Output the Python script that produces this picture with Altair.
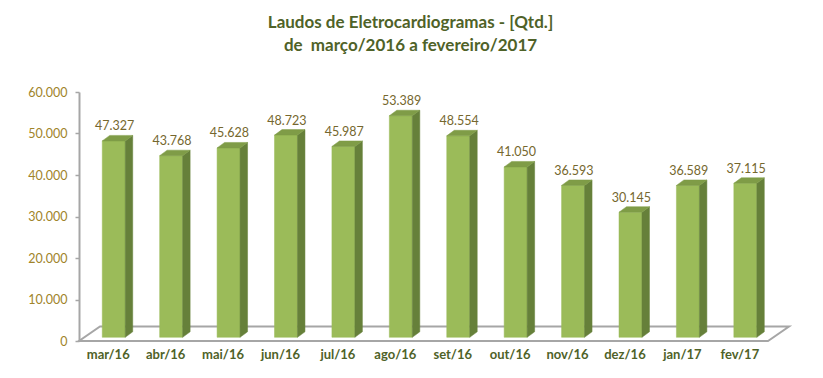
import altair as alt
import pandas as pd

months = ["mar/16", "abr/16", "mai/16", "jun/16", "jul/16", "ago/16",
          "set/16", "out/16", "nov/16", "dez/16", "jan/17", "fev/17"]
values = [47327, 43768, 45628, 48723, 45987, 53389,
          48554, 41050, 36593, 30145, 36589, 37115]
y_ticks = [0, 10000, 20000, 30000, 40000, 50000, 60000]

title_lines = ["Laudos de Eletrocardiogramas - [Qtd.]",
               "de\u00a0 março/2016 a fevereiro/2017"]

# ---- geometry (style) ----
W, H = 689, 249
YMAX = 60000
n = len(months)
px_x = W / n
px_y = H / YMAX


def xu(px):
    return px / px_x


def yu(px):
    return px / px_y


FX0, FX1 = -0.095, 0.305        # front face extent (category units)
BASE = yu(3.7)                   # bar base lifted from floor front edge
BDX, BDY = xu(7.5), yu(5.5)      # bar depth
FDX, FDY = xu(21), yu(14.5)      # floor depth

FRONT = "#9BBB59"
SIDE = "#66803A"
TOP = "#7F9C47"

front_rows, side_rows, top_rows, label_rows = [], [], [], []
for i, (m, v) in enumerate(zip(months, values)):
    x0, x1 = i + FX0, i + FX1
    top = BASE + v
    front_rows.append({"id": i, "x0": x0, "x1": x1, "lo": BASE, "hi": top})
    side_rows += [
        {"id": i, "x": x1, "lo": BASE, "hi": top},
        {"id": i, "x": x1 + BDX, "lo": BASE + BDY, "hi": top + BDY},
    ]
    top_rows += [
        {"id": i, "x": x0, "lo": top, "hi": top},
        {"id": i, "x": x0 + BDX, "lo": top, "hi": top + BDY},
        {"id": i, "x": x1, "lo": top, "hi": top + BDY},
        {"id": i, "x": x1 + BDX, "lo": top + BDY, "hi": top + BDY},
    ]
    label_rows.append({"id": i, "x": i + 0.12, "y": top + BDY,
                       "txt": f"{v:,}".replace(",", ".")})

floor_rows = [
    {"x": -0.5, "lo": 0, "hi": 0},
    {"x": -0.5 + FDX, "lo": 0, "hi": FDY},
    {"x": n - 0.5, "lo": 0, "hi": FDY},
    {"x": n - 0.5 + FDX, "lo": FDY, "hi": FDY},
]

xscale = alt.Scale(domain=[-0.5, n - 0.5], nice=False, zero=False)
yscale = alt.Scale(domain=[0, YMAX], nice=False, zero=True)

FONT = "Lato"
label_expr = "[" + ",".join(f"'{m}'" for m in months) + "][datum.value]"

x_axis = alt.Axis(values=list(range(n)), labelExpr=label_expr, title=None,
                  domain=False, ticks=False, grid=False, labelFont=FONT,
                  labelFontSize=13, labelFontWeight="bold", labelColor="#4F6228",
                  labelPadding=7, labelAngle=0, zindex=1)
y_axis = alt.Axis(values=y_ticks,
                  labelExpr="replace(format(datum.value, ','), ',', '.')",
                  title=None, grid=False, domainColor="#A6A6A6", domainWidth=2,
                  tickColor="#A6A6A6", tickSize=4, tickWidth=1.5,
                  labelFont=FONT, labelFontSize=12.5, labelColor="#A0842A",
                  labelPadding=8, zindex=1)

floor = alt.Chart(pd.DataFrame(floor_rows)).mark_area(
    fill="white", stroke="#A6A6A6", strokeWidth=2, strokeJoin="miter"
).encode(
    x=alt.X("x:Q", scale=xscale, axis=x_axis),
    y=alt.Y("lo:Q", scale=yscale, axis=y_axis),
    y2="hi:Q",
)

front = alt.Chart(pd.DataFrame(front_rows)).mark_bar(
    color=FRONT, stroke=FRONT, strokeWidth=0.5
).encode(
    x=alt.X("x0:Q", scale=xscale),
    x2="x1:Q",
    y=alt.Y("lo:Q", scale=yscale),
    y2="hi:Q",
)

side = alt.Chart(pd.DataFrame(side_rows)).mark_area(
    color=SIDE, stroke=SIDE, strokeWidth=0.5
).encode(
    x=alt.X("x:Q", scale=xscale),
    y=alt.Y("lo:Q", scale=yscale),
    y2="hi:Q",
    detail="id:N",
)

topf = alt.Chart(pd.DataFrame(top_rows)).mark_area(
    color=TOP, stroke=TOP, strokeWidth=0.5
).encode(
    x=alt.X("x:Q", scale=xscale),
    y=alt.Y("lo:Q", scale=yscale),
    y2="hi:Q",
    detail="id:N",
)

labels = alt.Chart(pd.DataFrame(label_rows)).mark_text(
    font=FONT, fontSize=12.5, color="#75672E", baseline="middle", dy=-9
).encode(
    x=alt.X("x:Q", scale=xscale),
    y=alt.Y("y:Q", scale=yscale),
    text="txt:N",
)

chart = alt.layer(floor, front, side, topf, labels).properties(
    width=W,
    height=H,
    autosize=alt.AutoSizeParams(type="none"),
    padding={"left": 71, "top": 84, "right": 40, "bottom": 29},
    title=alt.TitleParams(
        text=title_lines, font=FONT, fontSize=17, fontWeight="bold",
        color="#4F6228", anchor="middle", lineHeight=23, offset=31, dx=-13,
    ),
).configure_view(stroke=None)

chart.save("out.html", embed_options={"renderer": "svg", "actions": False})
